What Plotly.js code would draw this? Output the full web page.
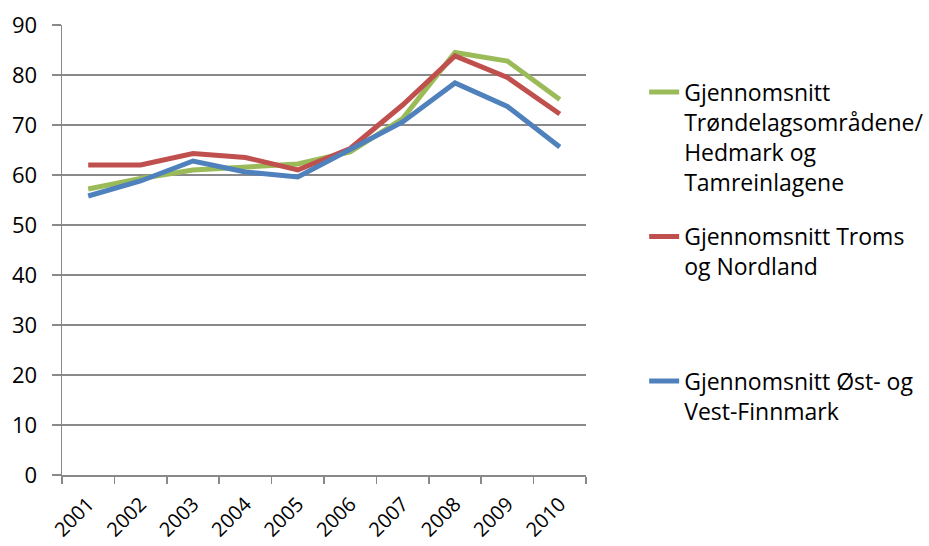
<!DOCTYPE html>
<html>
<head>
<meta charset="utf-8">
<script src="https://cdn.plot.ly/plotly-3.0.1.min.js"></script>
<style>html,body{margin:0;padding:0;background:#fff;}#chart{width:929px;height:546px;}</style>
</head>
<body>
<div id="chart"></div>
<script>
const years = ["2001","2002","2003","2004","2005","2006","2007","2008","2009","2010"];
const trondelag = [57.2, 59.3, 61.0, 61.6, 62.2, 64.6, 71.3, 84.5, 82.8, 75.1];
const tromsNordland = [62.0, 62.0, 64.3, 63.5, 61.0, 65.3, 74.0, 83.8, 79.5, 72.2];
const finnmark = [55.8, 58.8, 62.8, 60.6, 59.6, 65.1, 70.6, 78.4, 73.7, 65.6];
const seriesNames = [
  "Gjennomsnitt<br>Trøndelagsområdene/<br>Hedmark og<br>Tamreinlagene",
  "Gjennomsnitt Troms<br>og Nordland<br>\u00a0<br>\u00a0",
  "Gjennomsnitt Øst- og<br>Vest-Finnmark"
];
const colors = ["#9BBB59", "#C0504D", "#4F81BD"];
const yTicks = [0,10,20,30,40,50,60,70,80,90];

const data = [trondelag, tromsNordland, finnmark].map((vals, i) => ({
  type: "scatter",
  mode: "lines",
  x: years,
  y: vals,
  name: seriesNames[i],
  legendgroup: "g" + i,
  line: {color: colors[i], width: 5, shape: "linear"},
  hoverinfo: "x+y"
}));

const layout = {
  width: 929,
  height: 546,
  margin: {l: 62, r: 343, t: 25, b: 70.5, pad: 0, autoexpand: false},
  paper_bgcolor: "#ffffff",
  plot_bgcolor: "#ffffff",
  font: {family: "Open Sans, sans-serif", color: "#000000", size: 20},
  showlegend: true,
  legend: {
    x: 1.111, xanchor: "left",
    y: 0.899, yanchor: "top",
    valign: "top",
    tracegroupgap: 22,
    font: {family: "Open Sans, sans-serif", size: 23, color: "#000"},
    bgcolor: "rgba(0,0,0,0)"
  },
  xaxis: {
    type: "category",
    range: [-0.5, 9.5],
    tickson: "boundaries",
    ticks: "outside",
    ticklen: 7,
    tickcolor: "#898989",
    tickwidth: 1.5,
    showline: true,
    linecolor: "#898989",
    linewidth: 1.5,
    showgrid: false,
    zeroline: false,
    tickangle: -45,
    ticklabelstandoff: 8,
    tickfont: {family: "Open Sans, sans-serif", size: 20, color: "#000"}
  },
  yaxis: {
    range: [0, 90],
    tickvals: yTicks,
    ticktext: yTicks.map(String),
    ticks: "outside",
    ticklen: 9,
    tickcolor: "#898989",
    tickwidth: 1.5,
    showline: true,
    linecolor: "#898989",
    linewidth: 1.5,
    showgrid: true,
    gridcolor: "#898989",
    gridwidth: 1.5,
    zeroline: false,
    ticklabelstandoff: 10,
    tickfont: {family: "Open Sans, sans-serif", size: 22, color: "#000"}
  }
};

Plotly.newPlot("chart", data, layout, {displayModeBar: false, staticPlot: true});
</script>
</body>
</html>
